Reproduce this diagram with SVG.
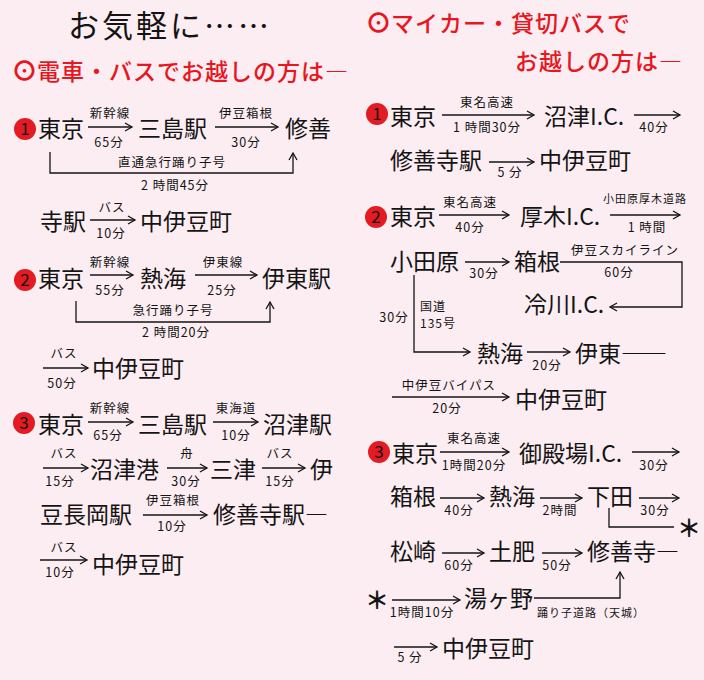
<svg xmlns="http://www.w3.org/2000/svg" width="704" height="680" viewBox="0 0 704 680">
<style>
text{font-family:"Noto Sans CJK JP","Noto Sans",sans-serif;fill:#141414}
.st{font-size:23px}
.sm{font-size:12.5px;letter-spacing:1px;text-anchor:middle}
.sl{font-size:12px;letter-spacing:1px}
.xs{font-size:11px;letter-spacing:1px}
.hd{font-size:23px;font-weight:500;fill:#e8161e;letter-spacing:1px}
.ring{font-size:27px;font-weight:700}
.tt{font-size:31px;letter-spacing:3px}
.num{font-size:17px;text-anchor:middle}
.star{font-size:24px;font-weight:700;text-anchor:middle}
.badge{fill:#e31b23}
.ln{fill:none;stroke:#141414;stroke-width:1.3}
.ar{marker-end:url(#ah)}
</style>
<defs>
<marker id="ah" viewBox="-1 -6 10 12" markerWidth="10" markerHeight="12" refX="7" refY="0" orient="auto" markerUnits="userSpaceOnUse">
<path d="M0,-4 L7,0 L0,4" fill="none" stroke="#141414" stroke-width="1.3"/>
</marker>
</defs>
<rect width="704" height="680" fill="#fbedf2"/>

<g id="title"><text class="tt" x="68" y="37">お気軽に……</text></g>
<g id="heading-left"><text class="hd" x="11" y="81"><tspan class="ring">⊙</tspan><tspan x="37" y="80">電車・バスでお越しの方は―</tspan></text></g>
<g id="heading-right">
<text class="hd" x="365" y="33"><tspan class="ring">⊙</tspan><tspan x="391" y="32">マイカー・貸切バスで</tspan></text>
<text class="hd" x="515" y="70">お越しの方は―</text>
</g>

<!-- badges -->
<g id="badge-L1"><circle class="badge" cx="25" cy="129" r="11"/><text class="num" x="25" y="135">1</text></g>
<g id="badge-L2"><circle class="badge" cx="25" cy="280" r="11"/><text class="num" x="25" y="286">2</text></g>
<g id="badge-L3"><circle class="badge" cx="24" cy="423" r="11"/><text class="num" x="24" y="429">3</text></g>
<g id="badge-R1"><circle class="badge" cx="377" cy="114" r="11"/><text class="num" x="377" y="120">1</text></g>
<g id="badge-R2"><circle class="badge" cx="376" cy="217" r="11"/><text class="num" x="376" y="223">2</text></g>
<g id="badge-R3"><circle class="badge" cx="379" cy="452" r="11"/><text class="num" x="379" y="458">3</text></g>

<!-- left nodes -->
<g id="L1-tokyo"><text class="st" x="38" y="137">東京</text></g>
<g id="L1-mishima"><text class="st" x="138" y="137">三島駅</text></g>
<g id="L1-shuzen"><text class="st" x="285" y="137">修善</text></g>
<g id="L1-jieki"><text class="st" x="40" y="230">寺駅</text></g>
<g id="L1-nakaizu"><text class="st" x="140" y="230">中伊豆町</text></g>

<g id="L2-tokyo"><text class="st" x="38" y="287">東京</text></g>
<g id="L2-atami"><text class="st" x="140" y="287">熱海</text></g>
<g id="L2-ito"><text class="st" x="262" y="287">伊東駅</text></g>
<g id="L2-nakaizu"><text class="st" x="92" y="377">中伊豆町</text></g>

<g id="L3-tokyo"><text class="st" x="38" y="433">東京</text></g>
<g id="L3-mishima"><text class="st" x="138" y="433">三島駅</text></g>
<g id="L3-numazu"><text class="st" x="263" y="433">沼津駅</text></g>
<g id="L3-numazuko"><text class="st" x="90" y="478">沼津港</text></g>
<g id="L3-mito"><text class="st" x="210" y="478">三津</text></g>
<g id="L3-i"><text class="st" x="310" y="478">伊</text></g>
<g id="L3-izunagaoka"><text class="st" x="40" y="523">豆長岡駅</text></g>
<g id="L3-shuzenji"><text class="st" x="213" y="523">修善寺駅―</text></g>
<g id="L3-nakaizu"><text class="st" x="92" y="573">中伊豆町</text></g>

<!-- right nodes -->
<g id="R1-tokyo"><text class="st" x="390" y="125">東京</text></g>
<g id="R1-numazuic"><text class="st" x="544" y="125">沼津I.C.</text></g>
<g id="R1-shuzenji"><text class="st" x="390" y="169">修善寺駅</text></g>
<g id="R1-nakaizu"><text class="st" x="539" y="169">中伊豆町</text></g>

<g id="R2-tokyo"><text class="st" x="390" y="225">東京</text></g>
<g id="R2-atsugiic"><text class="st" x="520" y="225">厚木I.C.</text></g>
<g id="R2-odawara"><text class="st" x="390" y="270">小田原</text></g>
<g id="R2-hakone"><text class="st" x="514" y="270">箱根</text></g>
<g id="R2-hiekawaic"><text class="st" x="524" y="313">冷川I.C.</text></g>
<g id="R2-atami"><text class="st" x="477" y="362">熱海</text></g>
<g id="R2-ito"><text class="st" x="575" y="362">伊東――</text></g>
<g id="R2-nakaizu"><text class="st" x="515" y="408">中伊豆町</text></g>

<g id="R3-tokyo"><text class="st" x="392" y="462">東京</text></g>
<g id="R3-gotembaic"><text class="st" x="519" y="462">御殿場I.C.</text></g>
<g id="R3-hakone"><text class="st" x="390" y="505">箱根</text></g>
<g id="R3-atami"><text class="st" x="489" y="505">熱海</text></g>
<g id="R3-shimoda"><text class="st" x="587" y="505">下田</text></g>
<g id="R3-matsuzaki"><text class="st" x="390" y="560">松崎</text></g>
<g id="R3-toi"><text class="st" x="489" y="560">土肥</text></g>
<g id="R3-shuzenji"><text class="st" x="587" y="560">修善寺―</text></g>
<g id="R3-yugano"><text class="st" x="464" y="607">湯ヶ野</text></g>
<g id="R3-nakaizu"><text class="st" x="442" y="657">中伊豆町</text></g>
<g id="R3-star1"><text class="star" x="689" y="537">＊</text></g>
<g id="R3-star2"><text class="star" x="377" y="609">＊</text></g>

<!-- connectors -->
<g id="connectors">
<g class="ln">
<path class="ar" d="M88,127H132"/>
<path class="ar" d="M215,127H278"/>
<path class="ar" d="M50,152V173H293V153"/>
<path class="ar" d="M90,220H135"/>
<path class="ar" d="M90,275H133"/>
<path class="ar" d="M195,275H257"/>
<path class="ar" d="M76,301V322H270V302"/>
<path class="ar" d="M43,368H88"/>
<path class="ar" d="M88,422H133"/>
<path class="ar" d="M213,422H258"/>
<path class="ar" d="M43,468H88"/>
<path class="ar" d="M167,468H207"/>
<path class="ar" d="M262,468H305"/>
<path class="ar" d="M143,515H207"/>
<path class="ar" d="M40,560H87"/>

<path class="ar" d="M442,115H534"/>
<path class="ar" d="M634,115H680"/>
<path class="ar" d="M489,162H534"/>
<path class="ar" d="M439,215H509"/>
<path class="ar" d="M610,215H680"/>
<path class="ar" d="M465,262H509"/>
<path class="ar" d="M560,262H682V307H610"/>
<path class="ar" d="M414,275V352H470"/>
<path class="ar" d="M527,352H570"/>
<path class="ar" d="M392,397H509"/>
<path class="ar" d="M440,452H509"/>
<path class="ar" d="M632,452H679"/>
<path class="ar" d="M440,498H484"/>
<path class="ar" d="M540,498H582"/>
<path class="ar" d="M639,498H679"/>
<path d="M609,508V527H674"/>
<path class="ar" d="M442,553H484"/>
<path class="ar" d="M542,553H582"/>
<path class="ar" d="M392,600H460"/>
<path class="ar" d="M534,598H620V572"/>
<path class="ar" d="M394,647H437"/>
</g>
<g id="connector-labels">
<text class="sm" x="110" y="118">新幹線</text><text class="sm" x="109" y="147">65分</text>
<text class="sm" x="246" y="118">伊豆箱根</text><text class="sm" x="246" y="147">30分</text>
<text class="sm" x="172" y="167">直通急行踊り子号</text><text class="sm" x="175" y="190">2 時間45分</text>
<text class="sm" x="112" y="212">バス</text><text class="sm" x="111" y="238">10分</text>
<text class="sm" x="110" y="267">新幹線</text><text class="sm" x="110" y="295">55分</text>
<text class="sm" x="223" y="267">伊東線</text><text class="sm" x="222" y="295">25分</text>
<text class="sm" x="173" y="315">急行踊り子号</text><text class="sm" x="176" y="337">2 時間20分</text>
<text class="sm" x="64" y="358">バス</text><text class="sm" x="62" y="388">50分</text>
<text class="sm" x="110" y="413">新幹線</text><text class="sm" x="108" y="440">65分</text>
<text class="sm" x="236" y="413">東海道</text><text class="sm" x="236" y="440">10分</text>
<text class="sm" x="64" y="458">バス</text><text class="sm" x="60" y="486">15分</text>
<text class="sm" x="187" y="458">舟</text><text class="sm" x="186" y="486">30分</text>
<text class="sm" x="280" y="458">バス</text><text class="sm" x="280" y="486">15分</text>
<text class="sm" x="173" y="505">伊豆箱根</text><text class="sm" x="172" y="531">10分</text>
<text class="sm" x="64" y="552">バス</text><text class="sm" x="60" y="577">10分</text>

<text class="sm" x="487" y="107">東名高速</text><text class="sm" x="487" y="132">1 時間30分</text>
<text class="sm" x="654" y="132">40分</text>
<text class="sm" x="510" y="177">5 分</text>
<text class="sm" x="470" y="207">東名高速</text><text class="sm" x="470" y="232">40分</text>
<text class="xs" x="645" y="203" text-anchor="middle">小田原厚木道路</text><text class="sm" x="647" y="232">1 時間</text>
<text class="sm" x="484" y="278">30分</text>
<text class="sm" x="625" y="255">伊豆スカイライン</text><text class="sm" x="619" y="277">60分</text>
<text class="sm" x="394" y="322">30分</text>
<text class="sl" x="420" y="311">国道</text><text class="sl" x="420" y="328">135号</text>
<text class="sm" x="547" y="370">20分</text>
<text class="sm" x="449" y="390">中伊豆バイパス</text><text class="sm" x="447" y="413">20分</text>
<text class="sm" x="474" y="443">東名高速</text><text class="sm" x="474" y="470">1時間20分</text>
<text class="sm" x="654" y="470">30分</text>
<text class="sm" x="459" y="515">40分</text>
<text class="sm" x="560" y="515">2時間</text>
<text class="sm" x="655" y="515">30分</text>
<text class="sm" x="459" y="570">60分</text>
<text class="sm" x="557" y="570">50分</text>
<text class="sm" x="422" y="617">1時間10分</text>
<text class="xs" x="537" y="617">踊り子道路（天城）</text>
<text class="sm" x="410" y="662">5 分</text>
</g>
</g>
</svg>
